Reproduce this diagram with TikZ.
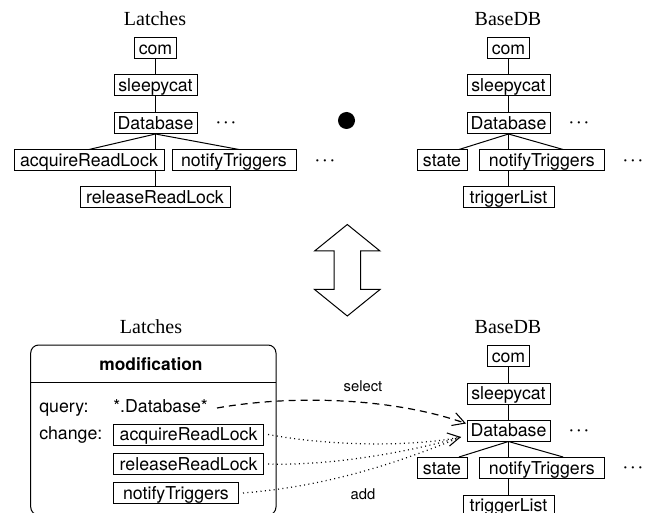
\documentclass[tikz,border=0pt]{standalone}
\usepackage{fontspec}
\setmainfont{Liberation Serif}
\setsansfont{TeX Gyre Heros}
\usetikzlibrary{arrows.meta}
\tikzset{
  px/.style={x=0.75pt,y=-0.75pt},
  box/.style={draw=black,line width=0.75pt,inner xsep=0pt,inner ysep=0pt,text height=12.55pt,text depth=3.2pt,align=center,font=\fontsize{13.3}{15}\sffamily},
  edge/.style={draw=black,line width=0.75pt},
  title/.style={inner sep=0pt,font=\fontsize{15}{18}\rmfamily},
  plain/.style={inner sep=0pt,font=\fontsize{13.3}{15}\sffamily},
  small/.style={inner sep=0pt,font=\fontsize{11.1}{13}\sffamily},
  more/.style={inner sep=0pt,font=\fontsize{11}{15}\selectfont\boldmath},
  open/.style={-{Straight Barb[length=9pt,width=10pt,line width=0.8pt]}},
  dashline/.style={line width=0.9pt,dash pattern=on 5.25pt off 3.75pt},
  dotline/.style={line width=0.9pt,dash pattern=on 0.75pt off 2.55pt},
}
\begin{document}
\begin{tikzpicture}[px]
\clip (0,0) rectangle (653,513);
\useasboundingbox (0,0) rectangle (653,513);

% top left tree
\node[title] (t1) at (155,19) {Latches};
\node[box,minimum width=31.5pt] (a1) at (155.5,48) {com};
\node[box,minimum width=62.25pt] (a2) at (155.5,85.5) {sleepycat};
\node[box,minimum width=62.25pt] (a3) at (155.5,123) {Database};
\node[box,minimum width=112.5pt] (a4) at (89,160.5) {acquireReadLock};
\node[box,minimum width=93pt] (a5) at (234,160.5) {notifyTriggers};
\node[box,minimum width=112.5pt] (a6) at (155,197.5) {releaseReadLock};
\node[more] (ad1) at (226,123) {$\cdots$};
\node[more] (ad2) at (325,161) {$\cdots$};
\draw[edge] (a1) -- (a2);
\draw[edge] (a2) -- (a3);
\draw[edge] (a3.south) -- (a4.north);
\draw[edge] (a3.south) -- (a3.south |- a4.north);
\draw[edge] (a3.south) -- ([xshift=3.75pt]a5.north);
\draw[edge] (a6.north) -- (a6.north |- a4.south);

% top right tree
\node[title] (t2) at (508,19) {BaseDB};
\node[box,minimum width=31.5pt] (b1) at (508.5,48) {com};
\node[box,minimum width=62.25pt] (b2) at (508.5,85.5) {sleepycat};
\node[box,minimum width=62.25pt] (b3) at (508.5,123) {Database};
\node[box,minimum width=37.5pt] (b4) at (442,160.5) {state};
\node[box,minimum width=93.75pt] (b5) at (541.8,160.5) {notifyTriggers};
\node[box,minimum width=68.25pt] (b6) at (508.5,197.5) {triggerList};
\node[more] (bd1) at (579,123) {$\cdots$};
\node[more] (bd2) at (633,161) {$\cdots$};
\draw[edge] (b1) -- (b2);
\draw[edge] (b2) -- (b3);
\draw[edge] (b3.south) -- ([xshift=12.75pt]b4.north);
\draw[edge] (b3.south) -- (b3.south |- b5.north);
\draw[edge] (b3.south) -- ([xshift=16pt]b5.north);
\draw[edge] (b6.north) -- (b6.north |- b5.south);

% middle symbols
\fill (346.5,120.5) circle[radius=8.5];
\draw[line width=0.75pt,line join=miter] (347.3,224.5) -- (380,251) -- (360.7,251) -- (360.7,289.5) -- (380,289.5) -- (347.3,316) -- (314.6,289.5) -- (334,289.5) -- (334,251) -- (314.6,251) -- cycle;

% bottom left
\node[title] (t3) at (151,327) {Latches};
\draw[line width=0.75pt,rounded corners=6pt] (30.7,345) rectangle (276,515);
\draw[line width=0.75pt] (30.7,382) -- (276,382);
\node[plain,font=\fontsize{13}{15}\sffamily\bfseries] (mod) at (151,364) {modification};
\node[plain,anchor=base west] (q) at (39,412) {query:};
\node[plain,anchor=base west] (c) at (39,439.5) {change:};
\node[plain,anchor=base west] (qv) at (113,412) {*.Database*};
\node[box,minimum width=112.5pt] (m1) at (188.6,434.5) {acquireReadLock};
\node[box,minimum width=112.5pt] (m2) at (188.6,464) {releaseReadLock};
\node[box,minimum width=93.75pt] (m3) at (176,493) {notifyTriggers};

% bottom right tree
\node[title] (t4) at (508,327) {BaseDB};
\node[box,minimum width=31.5pt] (c1) at (508.5,356) {com};
\node[box,minimum width=62.25pt] (c2) at (508.5,393.5) {sleepycat};
\node[box,minimum width=62.25pt] (c3) at (508.5,430.5) {Database};
\node[box,minimum width=37.5pt] (c4) at (442,468) {state};
\node[box,minimum width=93.75pt] (c5) at (541.8,468) {notifyTriggers};
\node[box,minimum width=68.25pt] (c6) at (508.5,505.5) {triggerList};
\node[more] (cd1) at (579,431) {$\cdots$};
\node[more] (cd2) at (633,468) {$\cdots$};
\draw[edge] (c1) -- (c2);
\draw[edge] (c2) -- (c3);
\draw[edge] (c3.south) -- ([xshift=12.75pt]c4.north);
\draw[edge] (c3.south) -- (c3.south |- c5.north);
\draw[edge] (c3.south) -- ([xshift=16pt]c5.north);
\draw[edge] (c6.north) -- (c6.north |- c5.south);

% modification connectors
\node[small] (sel) at (363,386) {select};
\node[small] (add) at (363,494) {add};
\coordinate (qs) at (217,408);
\coordinate (tipA) at ([shift={(-0.5,4)}]c3.north west);
\coordinate (tipB) at ([shift={(-5.5,6.5)}]c3.west);
\draw[dashline,open] (qs) .. controls (290,395) and (390,397) .. (tipA);
\draw[dotline,open] ([xshift=3pt]m1.east) .. controls (330,446) and (410,447) .. (tipB);
\draw[dotline] ([xshift=3pt]m2.east) .. controls (330,466) and (410,452) .. (tipB);
\draw[dotline] ([xshift=3pt]m3.east) .. controls (330,486) and (400,462) .. (tipB);
\end{tikzpicture}
\end{document}
